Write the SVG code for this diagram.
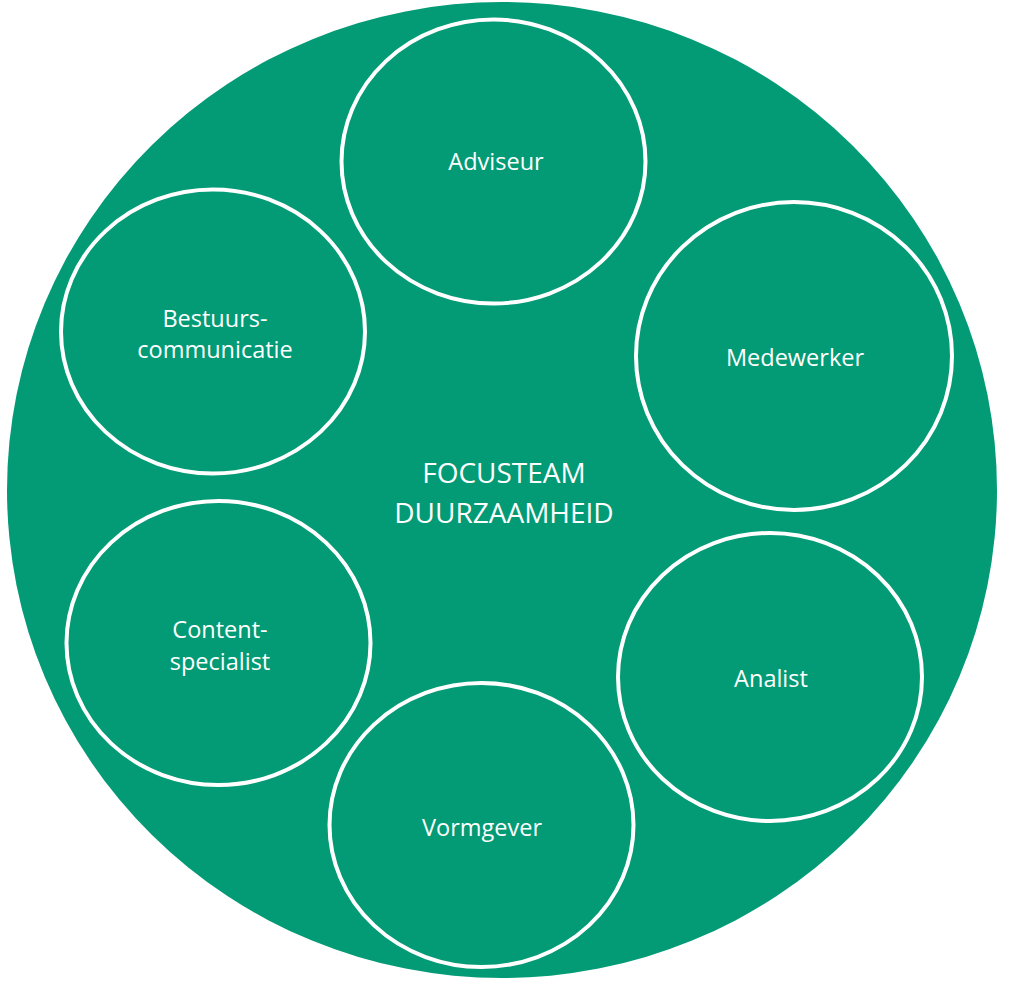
<svg xmlns="http://www.w3.org/2000/svg" width="1011" height="988" viewBox="0 0 1011 988">
<style>
.n{fill:none;stroke:#fff;stroke-width:4}
.t{fill:#fff;font-family:"Open Sans","Liberation Sans",sans-serif;font-size:23.5px;text-anchor:middle}
.c{fill:#fff;font-family:"Open Sans","Liberation Sans",sans-serif;font-size:28px;text-anchor:middle}
</style>
<rect width="1011" height="988" fill="#fff"/>
<g id="focusteam">
<ellipse cx="502" cy="490" rx="495" ry="488" fill="#029B75"/>
<text class="c" x="504" y="483">FOCUSTEAM</text>
<text class="c" x="504" y="523">DUURZAAMHEID</text>
</g>
<g id="adviseur"><ellipse class="n" cx="493.5" cy="161.5" rx="152" ry="142"/><text class="t" x="496" y="170">Adviseur</text></g>
<g id="medewerker"><ellipse class="n" cx="794" cy="356" rx="158" ry="154"/><text class="t" x="795" y="366">Medewerker</text></g>
<g id="bestuurs"><ellipse class="n" cx="213" cy="331.5" rx="152" ry="142"/><text class="t" x="215" y="327">Bestuurs-</text><text class="t" x="215" y="358">communicatie</text></g>
<g id="content"><ellipse class="n" cx="218.5" cy="643" rx="152" ry="142"/><text class="t" x="220" y="638">Content-</text><text class="t" x="220" y="670">specialist</text></g>
<g id="analist"><ellipse class="n" cx="770" cy="677" rx="152" ry="144"/><text class="t" x="771" y="687">Analist</text></g>
<g id="vormgever"><ellipse class="n" cx="481.5" cy="825" rx="152" ry="142"/><text class="t" x="482" y="836">Vormgever</text></g>
<g id="connectors"></g>
</svg>
